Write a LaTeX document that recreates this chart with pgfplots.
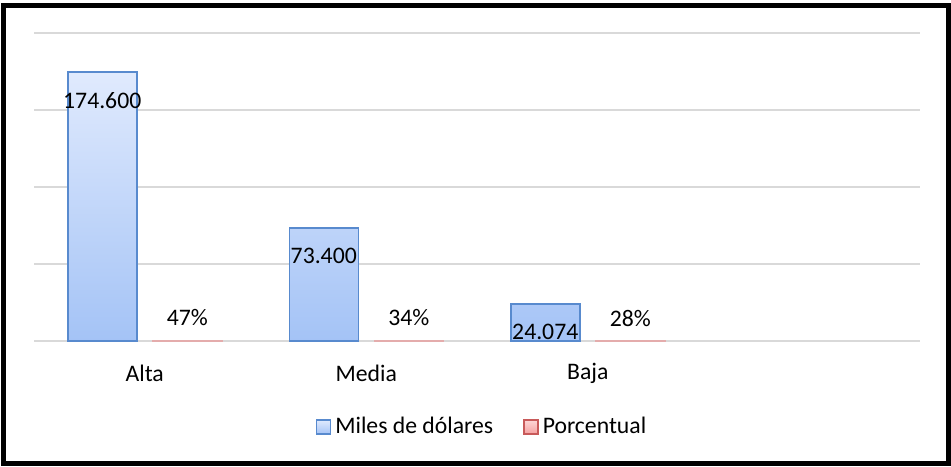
\documentclass[border=0pt]{standalone}
\usepackage{pgfplots}
\pgfplotsset{compat=1.18}
\usepackage{fontspec}
\setmainfont{Carlito}
\definecolor{bluetop}{RGB}{224,234,253}
\definecolor{bluebot}{RGB}{164,195,246}
\definecolor{blueedge}{RGB}{88,138,206}
\definecolor{redtop}{RGB}{253,214,214}
\definecolor{redbot}{RGB}{245,160,160}
\definecolor{rededge}{RGB}{200,90,90}
\definecolor{gridgray}{RGB}{217,217,217}
\begin{document}
\begin{tikzpicture}
\begin{axis}[
  scale only axis,
  width=443pt, height=154pt,
  xmin=-0.5, xmax=3.5,
  ymin=0, ymax=200000,
  xtick={0,1,2},
  xticklabels={Alta,Media,Baja},
  major tick length=0pt,
  ytick={0,50000,100000,150000,200000},
  yticklabels={},
  scaled y ticks=false,
  ymajorgrids,
  grid style={gridgray, line width=0.75pt},
  axis line style={draw=none},
  xticklabel style={font=\fontsize{11.85pt}{14pt}\selectfont, anchor=center, yshift=-16pt},
  ybar,
  bar width=34.5pt,
  nodes near coords={\pgfplotspointmeta},
  point meta=explicit symbolic,
  every node near coord/.append style={font=\fontsize{11.85pt}{14pt}\selectfont, anchor=center, inner sep=0pt},
  legend style={at={(0.5,0)}, xshift=3pt, yshift=-43pt, anchor=center, draw=none, legend columns=2,
    font=\fontsize{11.85pt}{14pt}\selectfont,
    /tikz/every even column/.append style={column sep=13pt}},
  legend cell align=left,
  clip=false,
]
\addplot[bar shift=-21.25pt, top color=bluetop, bottom color=bluebot, draw=blueedge, line width=0.75pt,
  every node near coord/.append style={yshift=-14pt},
  legend image code/.code={\draw[top color=bluetop, bottom color=bluebot, draw=blueedge, line width=0.75pt] (0pt,-3.5pt) rectangle (7pt,3.5pt);}]
  coordinates {(0,174600) [174.600] (1,73400) [73.400] (2,24074) [24.074]};
\addlegendentry{Miles de dólares}
\addplot[bar shift=21.25pt, top color=redtop, bottom color=redbot, draw=rededge!50, line width=0.75pt,
  every node near coord/.append style={yshift=11.5pt},
  legend image code/.code={\draw[top color=redtop, bottom color=redbot, draw=rededge, line width=0.75pt] (0pt,-3.5pt) rectangle (7pt,3.5pt);}]
  coordinates {(0,0.47) [47\%] (1,0.34) [34\%] (2,0.28) [28\%]};
\addlegendentry{Porcentual}
\end{axis}
\draw[line width=2.5pt, black] (-15.25pt,-61.25pt) rectangle (457.25pt,167.5pt);
\useasboundingbox (-17pt,-62.5pt) rectangle (458.5pt,170.5pt);
\end{tikzpicture}
\end{document}
